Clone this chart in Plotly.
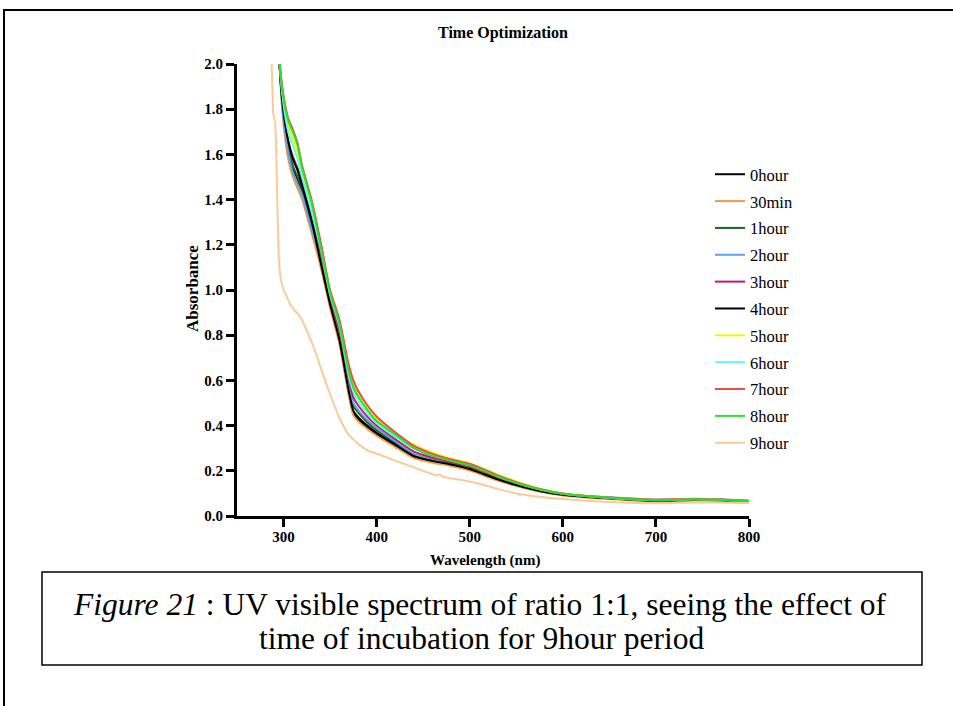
import plotly.graph_objects as go

# ---------------- data ----------------
series_names = ["0hour", "30min", "1hour", "2hour", "3hour", "4hour",
                "5hour", "6hour", "7hour", "8hour", "9hour"]
series_colors = ["#000000", "#F39A45", "#17661A", "#5FA3E6", "#C8176E", "#000000",
                 "#F5F500", "#5CFAFA", "#EE4B46", "#2BE02B", "#FCC99A"]

wl = [294, 296, 300, 305, 310, 315, 320, 330, 340, 350, 360, 370, 375, 380, 390,
      400, 420, 440, 460, 480, 500, 510, 530, 550, 575, 600, 650, 700, 740, 770, 800]

a_0hour = [2.25, 1.98, 1.77, 1.62, 1.54, 1.49, 1.43, 1.285, 1.113, 0.932, 0.773, 0.544, 0.455, 0.429, 0.393,
           0.362, 0.312, 0.262, 0.241, 0.226, 0.206, 0.191, 0.161, 0.136, 0.110, 0.093, 0.077, 0.066, 0.071, 0.069, 0.062]
a_30min = [2.25, 1.97, 1.73, 1.58, 1.50, 1.45, 1.40, 1.255, 1.10, 0.92, 0.76, 0.535, 0.445, 0.42, 0.385,
           0.355, 0.305, 0.256, 0.236, 0.221, 0.201, 0.187, 0.157, 0.133, 0.108, 0.091, 0.075, 0.064, 0.069, 0.068, 0.061]
a_1hour = [2.25, 1.98, 1.77, 1.63, 1.55, 1.50, 1.445, 1.30, 1.135, 0.948, 0.795, 0.573, 0.488, 0.458, 0.415,
           0.38, 0.325, 0.273, 0.249, 0.231, 0.211, 0.196, 0.165, 0.139, 0.112, 0.095, 0.078, 0.068, 0.073, 0.071, 0.064]
a_2hour = [2.25, 1.98, 1.76, 1.61, 1.52, 1.47, 1.42, 1.27, 1.14, 0.955, 0.805, 0.585, 0.50, 0.47, 0.425,
           0.388, 0.331, 0.275, 0.25, 0.232, 0.212, 0.197, 0.166, 0.14, 0.113, 0.095, 0.083, 0.073, 0.076, 0.074, 0.068]
a_3hour = [2.25, 1.99, 1.79, 1.66, 1.59, 1.54, 1.48, 1.33, 1.16, 0.965, 0.82, 0.605, 0.525, 0.49, 0.44,
           0.40, 0.34, 0.285, 0.258, 0.238, 0.218, 0.203, 0.17, 0.143, 0.115, 0.097, 0.080, 0.069, 0.074, 0.072, 0.065]
a_4hour = [2.25, 1.98, 1.79, 1.66, 1.58, 1.53, 1.46, 1.31, 1.12, 0.937, 0.78, 0.553, 0.465, 0.438, 0.40,
           0.368, 0.316, 0.265, 0.244, 0.228, 0.208, 0.193, 0.162, 0.137, 0.111, 0.094, 0.078, 0.067, 0.072, 0.070, 0.063]
a_5hour = [2.25, 2.00, 1.84, 1.73, 1.67, 1.61, 1.52, 1.37, 1.20, 0.99, 0.86, 0.66, 0.59, 0.54, 0.48,
           0.43, 0.36, 0.315, 0.28, 0.253, 0.233, 0.218, 0.183, 0.153, 0.121, 0.100, 0.081, 0.071, 0.074, 0.072, 0.066]
a_6hour = [2.25, 1.99, 1.82, 1.70, 1.64, 1.58, 1.50, 1.35, 1.18, 0.98, 0.84, 0.62, 0.55, 0.51, 0.455,
           0.41, 0.35, 0.30, 0.268, 0.245, 0.225, 0.21, 0.176, 0.147, 0.117, 0.098, 0.080, 0.070, 0.074, 0.072, 0.066]
a_7hour = [2.25, 2.00, 1.86, 1.76, 1.71, 1.65, 1.55, 1.40, 1.21, 1.00, 0.87, 0.67, 0.60, 0.555, 0.49,
           0.44, 0.37, 0.31, 0.275, 0.25, 0.23, 0.215, 0.18, 0.15, 0.12, 0.10, 0.082, 0.072, 0.075, 0.073, 0.067]
a_8hour = [2.25, 2.00, 1.85, 1.75, 1.70, 1.64, 1.54, 1.39, 1.19, 0.99, 0.85, 0.64, 0.57, 0.53, 0.47,
           0.42, 0.36, 0.30, 0.266, 0.244, 0.224, 0.209, 0.175, 0.146, 0.118, 0.098, 0.081, 0.070, 0.074, 0.072, 0.066]

wl_9hour = [286, 288, 289, 291, 293, 295, 297, 300, 303, 308, 318, 332, 347, 361, 370, 376, 390, 404,
            420, 440, 465, 468, 470, 490, 511, 530, 550, 575, 600, 650, 700, 740, 770, 800]
a_9hour = [2.15, 1.90, 1.78, 1.74, 1.45, 1.13, 1.05, 1.0, 0.975, 0.93, 0.88, 0.75, 0.572, 0.425, 0.36, 0.335, 0.29, 0.27,
           0.245, 0.215, 0.18, 0.185, 0.175, 0.16, 0.142, 0.12, 0.10, 0.085, 0.075, 0.062, 0.056, 0.060, 0.060, 0.057]

series_x = [wl] * 10 + [wl_9hour]
series_y = [a_0hour, a_30min, a_1hour, a_2hour, a_3hour, a_4hour,
            a_5hour, a_6hour, a_7hour, a_8hour, a_9hour]

x_ticks = [300, 400, 500, 600, 700, 800]
y_ticks = [0.0, 0.2, 0.4, 0.6, 0.8, 1.0, 1.2, 1.4, 1.6, 1.8, 2.0]

title_text = "Time Optimization"
x_title = "Wavelength (nm)"
y_title = "Absorbance"
caption_line1 = "<i>Figure 21</i> : UV visible spectrum of ratio 1:1, seeing the effect of"
caption_line2 = "time of incubation for 9hour period"

# ---------------- layout geometry ----------------
W, H = 953, 706
PL, PR, PT, PB = 237, 749, 64, 516
SERIF = "Liberation Serif"


def px_x(px):
    return (px - PL) / (PR - PL)


def px_y(py):
    return (PB - py) / (PB - PT)


fig = go.Figure()
for name, color, xs, ys in zip(series_names, series_colors, series_x, series_y):
    fig.add_trace(go.Scatter(
        x=xs, y=ys, mode="lines", name=name, legendgroup=name,
        line=dict(color=color, width=2, shape="spline", smoothing=0.6),
    ))

axis_common = dict(
    showline=True, linecolor="black", linewidth=3,
    ticks="outside", ticklen=8, tickwidth=3, tickcolor="black",
    showgrid=False, zeroline=False, mirror=False,
    tickfont=dict(family=SERIF, size=15, color="black", weight="bold"),
)

fig.update_layout(
    width=W, height=H,
    font=dict(family=SERIF, color="black"),
    margin=dict(l=PL, r=W - PR, t=PT, b=H - PB, pad=0),
    paper_bgcolor="white", plot_bgcolor="white",
    showlegend=True,
    legend=dict(
        x=px_x(710), y=px_y(157), xanchor="left", yanchor="top",
        font=dict(family=SERIF, size=16.5, color="black"),
        bgcolor="rgba(0,0,0,0)", borderwidth=0,
        tracegroupgap=2.4, itemwidth=30,
    ),
    xaxis=dict(range=[250, 800], tickvals=x_ticks, ticktext=[str(v) for v in x_ticks],
               ticklabelstandoff=-3, **axis_common),
    yaxis=dict(range=[0, 2.0], tickvals=y_ticks, ticktext=[f"{v:.1f}" for v in y_ticks], **axis_common),
)

annotations = [
    dict(text=f"<b>{title_text}</b>", x=px_x(503), y=px_y(33), xref="paper", yref="paper",
         showarrow=False, font=dict(family=SERIF, size=16, color="black"), xanchor="center", yanchor="middle"),
    dict(text=f"<b>{x_title}</b>", x=px_x(485), y=px_y(560), xref="paper", yref="paper",
         showarrow=False, font=dict(family=SERIF, size=15, color="black"), xanchor="center", yanchor="middle"),
    dict(text=f"<b>{y_title}</b>", x=px_x(192), y=px_y(289), xref="paper", yref="paper", textangle=-90,
         showarrow=False, font=dict(family=SERIF, size=17, color="black"), xanchor="center", yanchor="middle"),
    dict(text=caption_line1, x=px_x(480), y=px_y(604), xref="paper", yref="paper",
         showarrow=False, font=dict(family=SERIF, size=31.5, color="black"), xanchor="center", yanchor="middle"),
    dict(text=caption_line2, x=px_x(482), y=px_y(638), xref="paper", yref="paper",
         showarrow=False, font=dict(family=SERIF, size=31.5, color="black"), xanchor="center", yanchor="middle"),
]
fig.update_layout(annotations=annotations)

shapes = [
    # caption box
    dict(type="rect", xref="paper", yref="paper", x0=px_x(42), x1=px_x(922), y0=px_y(572), y1=px_y(665),
         line=dict(color="black", width=1.5), fillcolor="rgba(0,0,0,0)"),
    # outer frame
    dict(type="rect", xref="paper", yref="paper", x0=px_x(4), x1=px_x(970), y0=px_y(10), y1=px_y(720),
         line=dict(color="black", width=2), fillcolor="rgba(0,0,0,0)"),
]
fig.update_layout(shapes=shapes)

fig.write_html("out.html")
